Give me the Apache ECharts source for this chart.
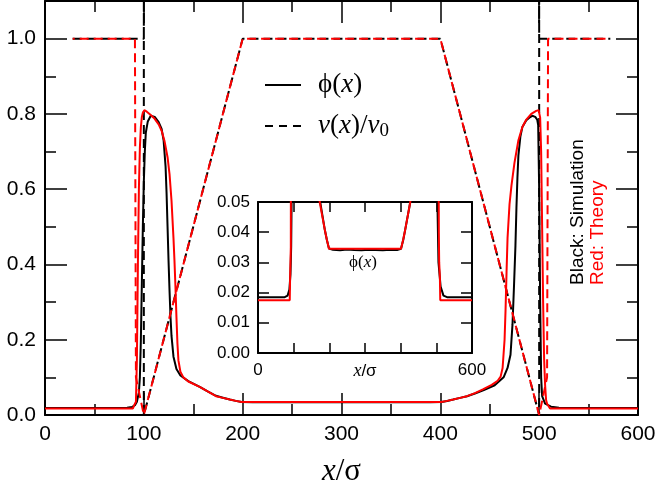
<!DOCTYPE html>
<html><head><meta charset="utf-8">
<script src="https://cdn.jsdelivr.net/npm/echarts@6/dist/echarts.min.js"></script>
<style>html,body{margin:0;padding:0;background:#fff}#c{width:660px;height:491px}</style>
</head><body><div id="c"></div>
<script>
// phi(x), simulation (black solid)
const phiSimX = [0, 75, 83, 88, 91, 93, 95, 96, 97, 98, 99, 100, 101, 102, 104, 107, 111, 115, 118, 120, 122, 123, 124, 125, 126, 127, 128, 130, 133, 137, 145, 157, 165, 173, 180, 187, 193, 199, 210, 230, 250, 270, 290, 310, 330, 350, 370, 390, 401, 407, 413, 420, 427, 435, 444, 455, 464, 468, 471, 473, 474.5, 476, 477, 478, 479, 481, 483, 487, 490, 493, 496, 498, 499, 500, 501, 502, 503, 506, 512, 520, 530, 600];
const phiSimY = [0.0185, 0.0185, 0.019, 0.021, 0.026, 0.035, 0.06, 0.1, 0.2, 0.35, 0.5, 0.62, 0.7, 0.75, 0.78, 0.795, 0.792, 0.778, 0.76, 0.73, 0.66, 0.59, 0.5, 0.41, 0.33, 0.26, 0.21, 0.155, 0.122, 0.105, 0.09, 0.074, 0.062, 0.051, 0.046, 0.041, 0.0375, 0.0346, 0.0342, 0.0340, 0.0343, 0.0341, 0.0340, 0.0342, 0.0341, 0.0340, 0.0342, 0.0341, 0.0345, 0.0373, 0.041, 0.0455, 0.05, 0.057, 0.066, 0.079, 0.1, 0.125, 0.16, 0.24, 0.34, 0.45, 0.55, 0.63, 0.69, 0.74, 0.765, 0.783, 0.79, 0.795, 0.792, 0.785, 0.77, 0.6, 0.3, 0.1, 0.05, 0.03, 0.022, 0.019, 0.0185, 0.0185];
// phi(x), theory (red solid)
const phiThX = [0, 89, 90, 92, 93, 94, 95, 96, 97, 98, 99, 100.5, 103, 107, 111, 115, 118, 121, 124, 126, 128, 130, 131, 132, 133, 134, 135, 137, 140, 145, 157, 165, 173, 180, 187, 193, 199, 401, 407, 413, 420, 427, 435, 443, 452, 458, 461, 463, 465, 466, 467, 468, 470, 472, 475, 479, 483, 487, 492, 497, 499.5, 501, 502, 503, 504, 505, 506, 507, 508, 510, 511, 600];
const phiThY = [0.0175, 0.0175, 0.025, 0.035, 0.15, 0.4, 0.6, 0.71, 0.765, 0.792, 0.803, 0.81, 0.806, 0.797, 0.787, 0.772, 0.755, 0.727, 0.685, 0.64, 0.57, 0.47, 0.41, 0.34, 0.26, 0.19, 0.145, 0.115, 0.1, 0.089, 0.074, 0.062, 0.05, 0.0455, 0.041, 0.0375, 0.0345, 0.0345, 0.0375, 0.041, 0.0455, 0.05, 0.058, 0.068, 0.08, 0.091, 0.102, 0.125, 0.2, 0.28, 0.38, 0.47, 0.56, 0.61, 0.67, 0.73, 0.765, 0.785, 0.8, 0.808, 0.81, 0.79, 0.7, 0.5, 0.3, 0.15, 0.08, 0.04, 0.03, 0.025, 0.0175, 0.0175];
// v(x)/v0 simulation (black dashed) and theory (red dashed)
const vSimX = [28, 100, 100, 100, 200, 400, 500, 500, 500, 572];
const vSimY = [1, 1, 1.2, 0, 1, 1, 0, 1.2, 1, 1];
const vThX = [28, 91, 92, 100, 200, 400, 500, 508, 509, 572];
const vThY = [1, 1, 0.1, 0, 1, 1, 0, 0.1, 1, 1];
// axis ticks
const xMin = 0, xMax = 600, xStep = 100, xMinor = 50;
const yMin = 0, yMax = 1.1, yStep = 0.2, yMinor = 0.1;
const insetYMax = 0.05, insetYStep = 0.01;

const zip = (xs, ys) => xs.map((x, i) => [x, ys[i]]);
const SANS = 'Liberation Sans';
const SERIF = 'Liberation Serif';

function ax(o) {
  const base = {
    type: 'value', min: o.min, max: o.max, interval: o.step, gridIndex: o.grid,
    position: o.pos, splitLine: {show: false},
    axisLine: {show: !!o.line, onZero: false, lineStyle: {color: '#000', width: 2}},
    axisTick: {show: true, inside: true, length: o.len, lineStyle: {color: '#000', width: 1.5}},
    axisLabel: {show: false}
  };
  return Object.assign(base, o.extra || {});
}

const chart = echarts.init(document.getElementById('c'), null, {renderer: 'canvas'});
const option = {
  animation: false,
  backgroundColor: '#fff',
  grid: [
    {left: 45, right: 22, top: 1, bottom: 76, outerBoundsMode: 'none', containLabel: false},
    {left: 258, top: 202, width: 214, height: 151, show: true, backgroundColor: '#fff', borderWidth: 0, outerBoundsMode: 'none', containLabel: false}
  ],
  xAxis: [
    ax({min: xMin, max: xMax, step: xStep, grid: 0, pos: 'bottom', len: 22, line: true, extra: {
      axisLabel: {show: true, margin: 9, fontSize: 21, fontFamily: SANS, color: '#000'},
      name: '{i|x}/σ', nameLocation: 'middle', nameGap: 41,
      nameTextStyle: {fontSize: 31, fontFamily: SERIF, color: '#000', rich: {i: {fontSize: 31, fontFamily: SERIF, fontStyle: 'italic'}}}
    }}),
    ax({min: xMin, max: xMax, step: xMinor, grid: 0, pos: 'bottom', len: 11}),
    ax({min: xMin, max: xMax, step: xStep, grid: 0, pos: 'top', len: 22, line: true}),
    ax({min: xMin, max: xMax, step: xMinor, grid: 0, pos: 'top', len: 11}),
    ax({min: xMin, max: xMax, step: xStep, grid: 1, pos: 'bottom', len: 10, line: true, extra: {
      axisLabel: {show: true, margin: 9, fontSize: 17, fontFamily: SANS, color: '#000', interval: 0,
        formatter: v => v === 0 ? '0' : v === 600 ? '600' : v === 300 ? '{i|x}/σ' : '',
        rich: {i: {fontSize: 18, fontFamily: SERIF, fontStyle: 'italic'}}}
    }}),
    ax({min: xMin, max: xMax, step: xStep, grid: 1, pos: 'top', len: 10, line: true})
  ],
  yAxis: [
    ax({min: yMin, max: yMax, step: yStep, grid: 0, pos: 'left', len: 22, line: true, extra: {
      axisLabel: {show: true, margin: 9, fontSize: 21, fontFamily: SANS, color: '#000',
        formatter: v => v > 1.05 ? '' : v.toFixed(1)}
    }}),
    ax({min: yMin, max: yMax, step: yMinor, grid: 0, pos: 'left', len: 11}),
    ax({min: yMin, max: yMax, step: yStep, grid: 0, pos: 'right', len: 22, line: true}),
    ax({min: yMin, max: yMax, step: yMinor, grid: 0, pos: 'right', len: 11}),
    ax({min: 0, max: insetYMax, step: insetYStep, grid: 1, pos: 'left', len: 11, line: true, extra: {
      axisLabel: {show: true, margin: 8, fontSize: 17, fontFamily: SANS, color: '#000',
        formatter: v => v.toFixed(2)}
    }}),
    ax({min: 0, max: insetYMax, step: insetYStep, grid: 1, pos: 'right', len: 11, line: true})
  ],
  series: [
    {type: 'line', xAxisIndex: 0, yAxisIndex: 0, data: zip(vSimX, vSimY), showSymbol: false, symbol: 'none', clip: true,
      lineStyle: {color: '#000', width: 2, type: [9, 5], dashOffset: 0}},
    {type: 'line', xAxisIndex: 0, yAxisIndex: 0, data: zip(phiSimX, phiSimY), showSymbol: false, symbol: 'none', clip: true,
      lineStyle: {color: '#000', width: 2}},
    {type: 'line', xAxisIndex: 0, yAxisIndex: 0, data: zip(phiThX, phiThY), showSymbol: false, symbol: 'none', clip: true,
      lineStyle: {color: '#ff0000', width: 2}},
    {type: 'line', xAxisIndex: 0, yAxisIndex: 0, data: zip(vThX, vThY), showSymbol: false, symbol: 'none', clip: true,
      lineStyle: {color: '#ff0000', width: 2, type: [9, 5], dashOffset: 7}},
    {type: 'line', xAxisIndex: 4, yAxisIndex: 4, data: zip(phiSimX, phiSimY), showSymbol: false, symbol: 'none', clip: true,
      lineStyle: {color: '#000', width: 2}, z: 5},
    {type: 'line', xAxisIndex: 4, yAxisIndex: 4, data: zip(phiThX, phiThY), showSymbol: false, symbol: 'none', clip: true,
      lineStyle: {color: '#ff0000', width: 2}, z: 5}
  ],
  graphic: [
    {type: 'line', shape: {x1: 265, y1: 85, x2: 301, y2: 85}, style: {stroke: '#000', lineWidth: 2}},
    {type: 'line', shape: {x1: 265, y1: 126, x2: 301, y2: 126}, style: {stroke: '#000', lineWidth: 2, lineDash: [8, 6]}},
    {type: 'text', x: 318, y: 85, style: {text: '{p|ϕ}({i|x})', fontSize: 27, fontFamily: SERIF, fill: '#000',
      verticalAlign: 'middle', align: 'left',
      rich: {p: {fontSize: 27, fontFamily: SERIF}, i: {fontSize: 27, fontFamily: SERIF, fontStyle: 'italic'}}}},
    {type: 'text', x: 318, y: 126, style: {text: '{i|v}({i|x})/{i|v}{s|0}', fontSize: 27, fontFamily: SERIF, fill: '#000',
      verticalAlign: 'middle', align: 'left',
      rich: {i: {fontSize: 27, fontFamily: SERIF, fontStyle: 'italic'}, s: {fontSize: 19, fontFamily: SERIF, padding: [10, 0, 0, 0]}}}},
    {type: 'text', x: 363, y: 263, z: 10, style: {text: '{p|ϕ}({i|x})', fontSize: 17, fontFamily: SERIF, fill: '#000',
      verticalAlign: 'middle', align: 'center',
      rich: {p: {fontSize: 17, fontFamily: SERIF}, i: {fontSize: 17, fontFamily: SERIF, fontStyle: 'italic'}}}},
    {type: 'text', x: 578, y: 285, rotation: Math.PI / 2, style: {text: 'Black: Simulation', fontSize: 19, fontFamily: SANS, fill: '#000',
      verticalAlign: 'middle', align: 'left'}},
    {type: 'text', x: 598, y: 285, rotation: Math.PI / 2, style: {text: 'Red: Theory', fontSize: 19, fontFamily: SANS, fill: '#ff0000',
      verticalAlign: 'middle', align: 'left'}}
  ]
};
chart.setOption(option);
</script></body></html>
